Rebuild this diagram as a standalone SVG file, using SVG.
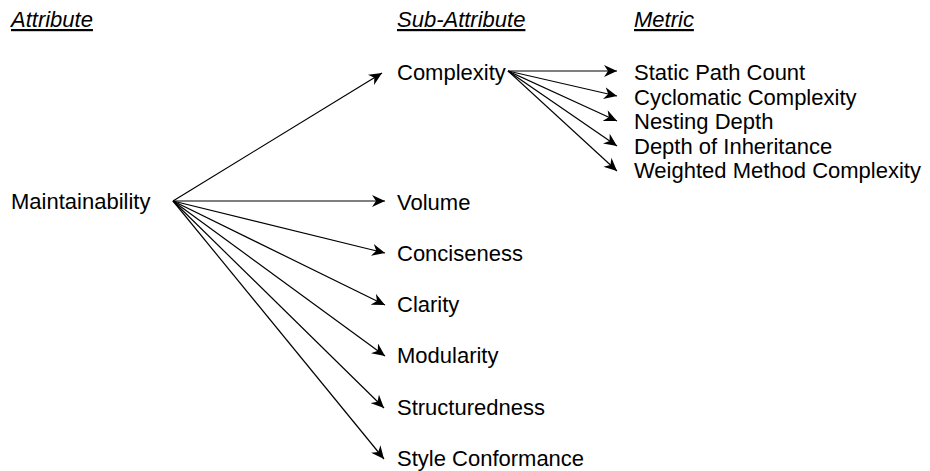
<svg xmlns="http://www.w3.org/2000/svg" width="930" height="471" viewBox="0 0 930 471">
<defs>
<marker id="arr" markerUnits="userSpaceOnUse" markerWidth="14" markerHeight="12" refX="13" refY="6" orient="auto">
<path d="M0,0 L13,6 L0,12 L4,6 z" fill="#000"/>
</marker>
<style>
text{font-family:"Liberation Sans",Arial,sans-serif;font-size:22px;fill:#000}
.hd{font-style:italic;text-decoration:underline}
.c line{stroke:#000;stroke-width:1.2;marker-end:url(#arr)}
</style>
</defs>
<rect width="930" height="471" fill="#fff"/>
<g id="headers">
<text class="hd" x="11" y="27">Attribute</text>
<text class="hd" x="397" y="27">Sub-Attribute</text>
<text class="hd" x="634" y="27">Metric</text>
</g>
<g id="maintainability"><text x="11" y="209">Maintainability</text></g>
<g id="complexity"><text x="397" y="80">Complexity</text></g>
<g id="volume"><text x="397" y="209.5">Volume</text></g>
<g id="conciseness"><text x="397" y="260.8">Conciseness</text></g>
<g id="clarity"><text x="397" y="312.1">Clarity</text></g>
<g id="modularity"><text x="397" y="363.4">Modularity</text></g>
<g id="structuredness"><text x="397" y="414.7">Structuredness</text></g>
<g id="style-conformance"><text x="397" y="466">Style Conformance</text></g>
<g id="static-path-count"><text x="634" y="80">Static Path Count</text></g>
<g id="cyclomatic-complexity"><text x="634" y="104.5">Cyclomatic Complexity</text></g>
<g id="nesting-depth"><text x="634" y="129">Nesting Depth</text></g>
<g id="depth-of-inheritance"><text x="634" y="153.5">Depth of Inheritance</text></g>
<g id="weighted-method-complexity"><text x="634" y="178">Weighted Method Complexity</text></g>
<g id="connectors" class="c">
<line x1="173" y1="201" x2="382" y2="73"/>
<line x1="173" y1="201" x2="385" y2="201"/>
<line x1="173" y1="201" x2="385" y2="253"/>
<line x1="173" y1="201" x2="385" y2="305"/>
<line x1="173" y1="201" x2="385" y2="356"/>
<line x1="173" y1="201" x2="384" y2="408"/>
<line x1="173" y1="201" x2="384" y2="459"/>
<line x1="508" y1="71" x2="617" y2="71"/>
<line x1="508" y1="71" x2="617" y2="96"/>
<line x1="508" y1="71" x2="617" y2="121"/>
<line x1="508" y1="71" x2="617" y2="146"/>
<line x1="508" y1="71" x2="617" y2="171"/>
</g>
</svg>
